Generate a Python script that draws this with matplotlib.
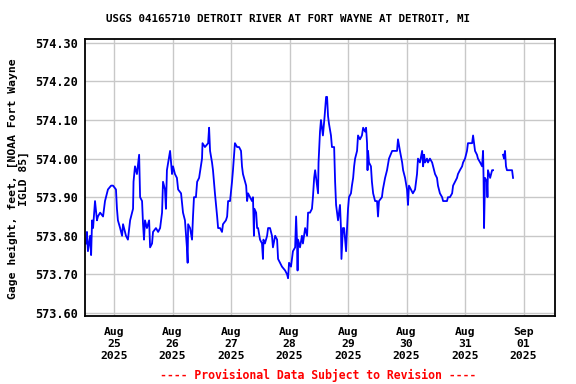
import numpy as np
import matplotlib
matplotlib.use("Agg")
import matplotlib.pyplot as plt

# Hours since Aug 25 2025 00:00, gage height in feet
hours = [
    -11.5, -11.1, -10.7, -9.8, -9.4, -9.0, -8.6, -7.8, -7.0, -6.6, -5.7, -4.5, -3.7, -2.5, -1.2, -0.4,
    0.8, 1.2, 1.6, 2.5, 3.3, 3.7, 4.9, 5.7, 6.6, 7.8, 8.0, 8.6, 9.4, 10.3, 10.7, 11.5, 11.9, 12.3,
    12.7, 13.5, 14.4, 14.8, 15.6, 16.0, 17.2, 18.1, 18.9, 19.7, 20.1, 20.9, 21.3, 21.7, 23.0, 23.8,
    24.2, 25.0, 25.8, 26.3, 27.5, 28.3, 29.1, 29.9, 30.2, 30.4, 31.2, 32.0, 32.4, 32.8, 33.6, 34.1,
    34.9, 36.1, 36.3, 37.3, 38.6, 39.0, 39.4, 40.2, 40.6, 41.4, 42.3, 42.7, 43.5, 44.3, 44.7, 45.9,
    46.4, 46.8, 47.6, 48.4, 48.8, 49.6, 50.5, 51.3, 52.1, 52.5, 52.9, 54.2, 54.6, 55.0, 55.8, 56.6,
    57.0, 57.4, 57.6, 58.3, 58.7, 59.1, 59.9, 60.7, 61.1, 61.3, 61.9, 62.8, 63.2, 64.0, 64.8, 65.2,
    66.1, 66.9, 67.3, 68.1, 68.9, 70.2, 71.0, 71.4, 71.8, 72.6, 73.0, 73.4, 74.3, 74.7, 75.1, 75.3,
    75.5, 76.3, 77.1, 77.5, 78.4, 79.2, 79.6, 80.4, 81.2, 81.6, 82.1, 82.5, 83.3, 83.7, 83.9, 84.5,
    84.9, 85.3, 85.7, 86.4, 87.0, 87.4, 87.8, 88.2, 89.0, 89.4, 89.8, 90.3, 90.7, 91.1, 91.5, 91.9,
    92.7, 93.1, 93.3, 93.9, 94.4, 95.2, 95.6, 96.0, 96.4, 97.2, 97.6, 98.1, 98.5, 98.9, 99.7, 100.1,
    100.9, 101.7, 102.2, 103.0, 103.4, 103.8, 104.0, 104.2, 104.6, 105.4, 105.8, 106.3, 107.1, 107.9,
    108.3, 108.7, 109.9, 110.3, 111.2, 112.0, 112.8, 114.1, 114.5, 115.7, 116.1, 116.5, 117.3, 118.2,
    118.6, 119.4, 120.2, 120.6, 121.0, 121.8, 122.6, 123.5, 124.3, 124.7, 125.5, 126.4, 126.8, 127.2,
    127.6, 128.4, 128.8, 129.6, 130.5, 130.9, 131.7, 132.5, 132.9, 133.7, 134.6, 135.0, 135.8, 136.6,
    137.0, 137.8, 138.7, 139.1, 139.9, 140.7, 141.1, 141.9, 142.8, 143.2, 144.0, 144.8, 145.2, 146.1,
    146.9, 147.3, 148.1, 148.9, 149.3, 150.2, 151.0, 151.4, 151.6, 151.8, 152.2, 153.0, 153.2, 153.4,
    154.3, 155.1, 155.5, 157.5, 159.6, 160.0, 160.4, 160.8, 161.2, 161.6, 163.3, 163.7,
]
gage_ft = [
    573.78, 573.81, 573.76, 573.80, 573.75, 573.84, 573.82, 573.89, 573.84, 573.85, 573.86, 573.85, 573.89, 573.92, 573.93, 573.93,
    573.92, 573.87, 573.84, 573.82, 573.80, 573.83, 573.80, 573.79, 573.84, 573.87, 573.94, 573.98, 573.96, 574.01, 573.90, 573.89, 573.83, 573.79,
    573.84, 573.82, 573.84, 573.77, 573.78, 573.81, 573.82, 573.81, 573.82, 573.86, 573.94, 573.92, 573.87, 573.97, 574.02, 573.96,
    573.98, 573.96, 573.95, 573.92, 573.91, 573.86, 573.84, 573.77, 573.73, 573.83, 573.82, 573.79, 573.85, 573.90, 573.90, 573.94,
    573.95, 574.00, 574.04, 574.03, 574.04, 574.08, 574.02, 573.99, 573.97, 573.91, 573.85, 573.82, 573.82, 573.81, 573.83, 573.84,
    573.85, 573.89, 573.89, 573.94, 573.97, 574.04, 574.03, 574.03, 574.02, 573.98, 573.96, 573.93, 573.89, 573.91, 573.90, 573.89,
    573.90, 573.80, 573.87, 573.86, 573.82, 573.82, 573.79, 573.78, 573.74, 573.79, 573.78, 573.80, 573.82, 573.82, 573.80, 573.77,
    573.80, 573.79, 573.74, 573.73, 573.72, 573.71, 573.70, 573.69, 573.73, 573.72, 573.74, 573.76, 573.77, 573.85, 573.78, 573.71,
    573.79, 573.77, 573.80, 573.78, 573.82, 573.80, 573.86, 573.86, 573.87, 573.90, 573.95, 573.97, 573.93, 573.91, 573.99, 574.07,
    574.10, 574.08, 574.06, 574.11, 574.16, 574.16, 574.11, 574.09, 574.06, 574.03, 574.03, 574.03, 573.94, 573.88, 573.86, 573.84,
    573.88, 573.82, 573.74, 573.82, 573.82, 573.76, 573.82, 573.87, 573.90, 573.91, 573.93, 573.95, 573.98, 574.00, 574.02, 574.06,
    574.05, 574.06, 574.08, 574.07, 574.08, 574.04, 573.97, 574.02, 573.99, 573.98, 573.94, 573.91, 573.89, 573.89,
    573.85, 573.89, 573.90, 573.92, 573.95, 573.97, 574.00, 574.02, 574.02, 574.02, 574.02, 574.05, 574.02, 573.99,
    573.97, 573.95, 573.92, 573.88, 573.93, 573.92, 573.91, 573.92, 573.96, 574.00, 573.99, 574.02, 573.98, 574.01,
    573.99, 574.00, 573.99, 574.00, 573.99, 573.98, 573.96, 573.95, 573.93, 573.91, 573.90, 573.89, 573.89, 573.89,
    573.90, 573.90, 573.91, 573.93, 573.94, 573.95, 573.96, 573.97, 573.98, 573.99, 574.00, 574.02, 574.04, 574.04,
    574.04, 574.06, 574.02, 574.01, 574.00, 573.99, 573.98, 574.02, 573.95, 573.82, 573.95, 573.94, 573.90, 573.97,
    573.95, 573.97, 573.97, np.nan, 574.01, 574.00, 574.02, 573.98, 573.97, 573.97, 573.97, 573.95,
]

y_ticks = [573.60, 573.70, 573.80, 573.90, 574.00, 574.10, 574.20, 574.30]
x_ticks = [0, 24, 48, 72, 96, 120, 144, 168]
x_labels = ["Aug\n25\n2025", "Aug\n26\n2025", "Aug\n27\n2025", "Aug\n28\n2025",
            "Aug\n29\n2025", "Aug\n30\n2025", "Aug\n31\n2025", "Sep\n01\n2025"]

mono = "DejaVu Sans Mono"

fig = plt.figure(figsize=(5.76, 3.84), dpi=100)
ax = fig.add_axes([0.1476, 0.177, 0.8159, 0.7214])

ax.plot(hours, gage_ft, color="#0000ff", lw=1.3)

ax.set_xlim(-11.9, 180.9)
ax.set_ylim(573.592, 574.31)
ax.set_xticks(x_ticks)
ax.set_xticklabels(x_labels, fontfamily=mono, fontweight="bold", fontsize=8.2, linespacing=1.22)
ax.set_yticks(y_ticks)
ax.set_yticklabels([f"{v:.2f}" for v in y_ticks], fontfamily=mono, fontweight="bold", fontsize=8.6)
ax.tick_params(axis="y", length=0, pad=5)
ax.tick_params(axis="x", length=0, pad=8)
ax.grid(True, color="#c8c8c8", lw=1.0)
ax.set_axisbelow(True)
for s in ax.spines.values():
    s.set_linewidth(1.3)

fig.text(0.5, 0.95, "USGS 04165710 DETROIT RIVER AT FORT WAYNE AT DETROIT, MI",
         ha="center", va="center", fontfamily=mono, fontweight="bold", fontsize=7.8)
fig.text(0.032, 0.535, "Gage height, feet, [NOAA Fort Wayne\nIGLD 85]",
         ha="center", va="center", rotation=90, fontfamily=mono, fontweight="bold",
         fontsize=8.2, linespacing=1.1)
fig.text(0.553, 0.023, "---- Provisional Data Subject to Revision ----",
         ha="center", va="center", color="#ff0000", fontfamily=mono, fontweight="bold", fontsize=8.3)

fig.savefig("out.png", dpi=100)
